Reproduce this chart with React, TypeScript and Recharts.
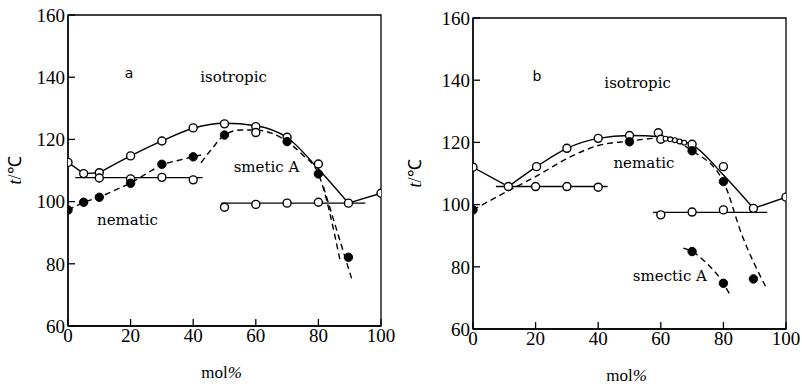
import React from "react"
import { ComposedChart, Line, Scatter, XAxis, YAxis, ReferenceArea, ReferenceDot } from "recharts"

// ticks
const xTicks = [0, 20, 40, 60, 80, 100]
const yTicks = [60, 80, 100, 120, 140, 160]

// panel a : boundary lines [mol%, t]
const aClearLeft = [[0, 112.6], [5, 109], [10, 109.3]]
const aClearCurve = [[10, 109.3], [20, 114.7], [30, 119.5], [40, 123.6], [50, 125.2], [60, 124.4], [70, 120.6], [80, 110.5], [89.6, 99.5]]
const aClearRight = [[89.6, 99.5], [100, 102.7]]
const aSmLeft = [[0, 97.3], [5, 99.8], [10, 101.4], [20, 105.9], [30, 112], [40, 114.4], [42.5, 115]]
const aSmCurve = [[42.5, 112.5], [46, 117], [50, 121.4], [55, 123], [60, 123], [65, 122], [70, 119.3], [75, 115], [80, 108.9], [86.9, 81.2]]
const aSmTail = [[81.6, 104.8], [90.6, 75.3]]
const aNemLine = [[2.3, 107.7], [43, 107.7]]
const aLowLine = [[49, 99.5], [95, 99.5]]
// panel a : measured points
const aOpen = [[0, 112.6], [5, 109], [10, 109.3], [20, 114.7], [30, 119.5], [40, 123.7], [50, 125], [60, 124.1], [70, 120.7], [80, 112.1], [89.6, 99.5], [100, 102.7],
  [60, 122.2], [10, 107.6], [20, 107.3], [30, 107.8], [40, 107], [50, 98.2], [60, 99.1], [70, 99.5], [80, 99.8]]
const aFilled = [[0, 97.3], [5, 99.8], [10, 101.4], [20, 105.9], [30, 112], [40, 114.4], [50, 121.4], [70, 119.3], [80, 108.9], [89.6, 82.1]]

// panel b : boundary lines
const bClearLeft = [[0, 112], [11.3, 105.8]]
const bClearCurve = [[11.3, 105.8], [20.3, 112.2], [30, 118.1], [40, 121.3], [50, 122.2], [60, 121.8], [70, 119.2], [80, 109.5], [89.6, 98.8]]
const bClearRight = [[89.6, 98.8], [100, 102.4]]
const bNemSm = [[0, 98.3], [11, 104.3], [20, 109], [30, 114.8], [40, 119], [50, 120.4], [60, 121.4], [70, 117.3], [80, 107.4], [86, 90], [93.5, 73.6]]
const bSmLow = [[67.2, 86], [70, 84.9], [74.7, 81.1], [80, 74.7], [82.1, 71]]
const bNemLine = [[7.3, 105.8], [43, 105.8]]
const bLowLine = [[57.5, 97.5], [94, 97.5]]
// panel b : measured points
const bOpen = [[0, 112], [11.3, 105.8], [20.3, 112.2], [30, 118.1], [40, 121.3], [50, 122.2], [59.2, 123.1], [60, 121], [70, 119.4], [80, 112.2], [89.6, 98.8], [100, 102.4],
  [20, 105.8], [30, 105.8], [40, 105.6], [60, 96.7], [70, 97.6], [80, 98.3]]
const bSmall = [[61.5, 121.2], [63, 121], [64.5, 120.7], [66, 120.3], [67.5, 119.9]]
const bFilled = [[0, 98.3], [50, 120.2], [70, 117.3], [80, 107.4], [89.6, 76.1], [70, 84.9], [80, 74.7]]

const pts = (a: number[][]) => a.map(([x, y]) => ({ x, y }))

const INK = "#000"
const SERIF = "Liberation Serif, serif"
const LABEL = "DejaVu Serif, serif"

const OpenDot = (p: any) => <circle cx={p.cx} cy={p.cy} r={4} fill="#fff" stroke={INK} strokeWidth={1.4} />
const SmallDot = (p: any) => <circle cx={p.cx} cy={p.cy} r={2.4} fill="#fff" stroke={INK} strokeWidth={1.1} />
const FullDot = (p: any) => <circle cx={p.cx} cy={p.cy} r={4.2} fill={INK} stroke={INK} strokeWidth={1} />

const Tag = ({ viewBox, text, size = 15, family = LABEL }: any) => (
  <text x={viewBox.x + viewBox.width / 2} y={viewBox.y + viewBox.height / 2} textAnchor="middle"
    dominantBaseline="central" fill={INK} style={{ fontSize: size, fontFamily: family }}>{text}</text>
)

const YLabel = ({ viewBox }: any) => {
  const x = 15
  const y = viewBox.y + viewBox.height / 2
  return (
    <text x={x} y={y} transform={`rotate(-90 ${x} ${y})`} textAnchor="middle" dominantBaseline="central"
      fill={INK} style={{ fontSize: 18, fontFamily: SERIF }}>
      <tspan fontStyle="italic">t</tspan>/℃
    </text>
  )
}

const XLabel = ({ viewBox }: any) => (
  <text x={viewBox.x + viewBox.width / 2 - 3} y={viewBox.y + 46} textAnchor="middle" dominantBaseline="central"
    fill={INK} style={{ fontSize: 17, fontFamily: SERIF }}>
    mol<tspan fontStyle="italic">%</tspan>
  </text>
)

function curve(d: number[][], key: string, dashed = false, type: "linear" | "monotone" = "monotone") {
  return (
    <Line key={key} data={pts(d)} dataKey="y" type={type} dot={false} stroke={INK} strokeWidth={1.4}
      strokeDasharray={dashed ? "6 4" : undefined} isAnimationActive={false} />
  )
}

const tickStyle = { fontSize: 19, fill: INK, style: { fontFamily: SERIF } }

function Panel({ width, margin, yWidth, xHeight, children }: any) {
  return (
    <ComposedChart width={width} height={384} margin={margin} style={{ fontFamily: SERIF }}>
      <XAxis dataKey="x" type="number" domain={[0, 100]} ticks={xTicks} allowDataOverflow
        tickSize={-7} tickMargin={10} height={xHeight} stroke={INK} strokeWidth={1.3}
        tick={tickStyle} label={<XLabel />} />
      <YAxis type="number" domain={[60, 160]} ticks={yTicks} allowDataOverflow
        tickSize={-7} tickMargin={10} width={yWidth} stroke={INK} strokeWidth={1.3}
        tick={tickStyle} label={<YLabel />} />
      <ReferenceArea x1={0} x2={100} y1={60} y2={160} fill="none" stroke={INK} strokeWidth={1.3} />
      {children}
    </ComposedChart>
  )
}

function at(x: number, y: number, text: string, key: string, size?: number, family?: string) {
  return <ReferenceDot key={key} x={x} y={y} r={1} fill="none" stroke="none" label={<Tag text={text} size={size} family={family} />} />
}

export default function App() {
  return (
    <div style={{ position: "absolute", left: 0, top: 0, width: 802, height: 384, display: "flex", background: "#fff", fontFamily: SERIF }}>
      <Panel width={400} margin={{ top: 15, right: 19, left: 0, bottom: 0 }} yWidth={68} xHeight={58}>
        {curve(aClearLeft, "a1", false, "linear")}
        {curve(aClearCurve, "a2")}
        {curve(aClearRight, "a3", false, "linear")}
        {curve(aSmLeft, "a4", true, "linear")}
        {curve(aSmCurve, "a5", true)}
        {curve(aSmTail, "a6", true, "linear")}
        {curve(aNemLine, "a7", false, "linear")}
        {curve(aLowLine, "a8", false, "linear")}
        <Scatter data={pts(aOpen)} dataKey="y" shape={OpenDot} isAnimationActive={false} />
        <Scatter data={pts(aFilled)} dataKey="y" shape={FullDot} isAnimationActive={false} />
        {at(19.5, 141.4, "a", "la", 14, "DejaVu Sans, sans-serif")}
        {at(52.9, 140, "isotropic", "lb")}
        {at(63.4, 111.1, "smetic A", "lc")}
        {at(19, 94.1, "nematic", "ld")}
      </Panel>
      <Panel width={402} margin={{ top: 18, right: 16, left: 0, bottom: 0 }} yWidth={73} xHeight={55}>
        {curve(bClearLeft, "b1", false, "linear")}
        {curve(bClearCurve, "b2")}
        {curve(bClearRight, "b3", false, "linear")}
        {curve(bNemSm, "b4", true)}
        {curve(bSmLow, "b5", true)}
        {curve(bNemLine, "b6", false, "linear")}
        {curve(bLowLine, "b7", false, "linear")}
        <Scatter data={pts(bOpen)} dataKey="y" shape={OpenDot} isAnimationActive={false} />
        <Scatter data={pts(bSmall)} dataKey="y" shape={SmallDot} isAnimationActive={false} />
        <Scatter data={pts(bFilled)} dataKey="y" shape={FullDot} isAnimationActive={false} />
        {at(20.4, 141.4, "b", "ma", 14, "DejaVu Sans, sans-serif")}
        {at(52.6, 139.1, "isotropic", "mb")}
        {at(54.6, 113.4, "nematic", "mc")}
        {at(62.9, 77, "smectic A", "md")}
      </Panel>
    </div>
  )
}
